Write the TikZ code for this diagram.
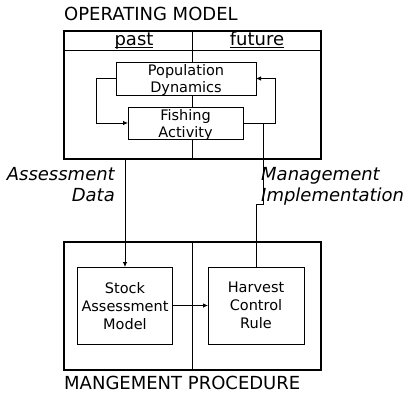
\documentclass[tikz,border=0pt]{standalone}
\usepackage{fontspec}
\setmainfont{DejaVu Sans}
\usetikzlibrary{arrows.meta}
\newcommand\hdrul[1]{\underline{\smash{#1}}}
\begin{document}
\begin{tikzpicture}[x=1pt,y=-1pt,
  outerbox/.style={draw, line width=1.6pt, inner sep=0pt, outer sep=0pt},
  innerbox/.style={draw, fill=white, line width=0.8pt, inner sep=0pt, outer sep=0pt,
    align=center},
  smalltxt/.style={font=\fontsize{14.5}{17}\selectfont, text depth=0pt},
  bigtxt/.style={font=\fontsize{14.5}{18}\selectfont, text depth=0pt},
  title/.style={inner sep=0pt, font=\fontsize{18}{21}\selectfont},
  hdr/.style={inner sep=0pt, font=\fontsize{18}{21}\selectfont},
  lbl/.style={inner sep=0pt, font=\fontsize{18}{21}\selectfont\itshape},
  conn/.style={line width=0.8pt},
  arr/.style={conn, -{Latex[length=5pt,width=4.5pt]}}]
\useasboundingbox (0,0) rectangle (409,393);

% titles
\node[title, anchor=base west] (omt) at (64,21) {OPERATING MODEL};
\node[title, anchor=base west] (mpt) at (64,389) {MANGEMENT PROCEDURE};

% operating model frame
\node[outerbox, minimum width=257pt, minimum height=128pt] (om) at (192.5,95) {};
\draw[conn] (om.west |- 0,50) -- (om.east |- 0,50);
\draw[conn] (om.north) -- (om.south);
\node[hdr, anchor=base] (past) at (134,46) {\hdrul{past}};
\node[hdr, anchor=base] (future) at (257,46) {\hdrul{future}};

% management procedure frame
\node[outerbox, minimum width=257pt, minimum height=128pt] (mp) at (192.5,306) {};
\draw[conn] (mp.north) -- (mp.south);

% inner boxes
\node[innerbox, smalltxt, minimum width=140pt, minimum height=33pt] (pd) at (186,78.5) {Population\\Dynamics};
\node[innerbox, smalltxt, minimum width=115pt, minimum height=32pt] (fa) at (185.5,123) {Fishing\\Activity};
\node[innerbox, bigtxt, minimum width=95pt, minimum height=77pt] (sam) at (125,305.5) {Stock\\Assessment\\Model};
\node[innerbox, bigtxt, minimum width=96pt, minimum height=77pt] (hcr) at (256,305.5) {Harvest\\Control\\Rule};

% loops
\draw[arr] (pd.west) -- ++(-20,0) |- (fa.west);
\draw[arr] (fa.east) -- ++(32,0) |- (pd.east);
\coordinate (j) at (263,123);

% between models
\draw[arr] (sam.north |- om.south) -- (sam.north);
\draw[conn] (j) -- ++(0,81) -| (hcr.north);
\draw[arr] (sam.east) -- (hcr.west);

% labels
\node[lbl, anchor=base east, align=right] (ad) at (115,201) {Assessment\\Data};
\node[lbl, anchor=base west, align=left] (mi) at (261,201) {Management\\Implementation};
\end{tikzpicture}
\end{document}
